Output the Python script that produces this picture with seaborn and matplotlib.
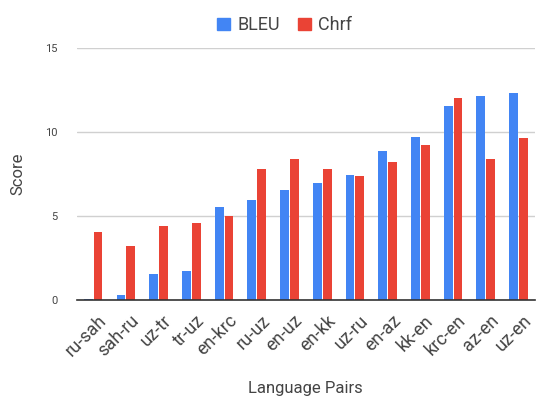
import matplotlib
matplotlib.use("Agg")
import matplotlib.pyplot as plt
import matplotlib.transforms as mtransforms
import seaborn as sns
import pandas as pd

# Data
pairs = ["ru-sah", "sah-ru", "uz-tr", "tr-uz", "en-krc", "ru-uz", "en-uz",
         "en-kk", "uz-ru", "en-az", "kk-en", "krc-en", "az-en", "uz-en"]
bleu = [0.05, 0.28, 1.54, 1.72, 5.55, 5.95, 6.57, 6.98, 7.43, 8.87, 9.73, 11.57, 12.17, 12.33]
chrf = [4.02, 3.2, 4.41, 4.59, 4.98, 7.8, 8.4, 7.78, 7.38, 8.2, 9.24, 12.05, 8.42, 9.63]

metrics = ["BLEU", "Chrf"]
colors = ["#4285F4", "#EA4335"]

# long form table for seaborn
df = pd.DataFrame({"pair": pairs * 2,
                   "metric": ["BLEU"] * len(pairs) + ["Chrf"] * len(pairs),
                   "score": bleu + chrf})

sns.set_theme(style="white")
plt.rcParams["font.family"] = ["Roboto", "DejaVu Sans"]
text_col = "#444444"

fig = plt.figure(figsize=(5.37, 4.01), dpi=100)
ax = fig.add_axes([0.143, 0.252, 0.853, 0.628])

sns.barplot(data=df, x="pair", y="score", hue="metric", hue_order=metrics,
            palette=colors, width=0.6, gap=0.1, saturation=1, ax=ax,
            edgecolor="none", legend=False)

ax.set_ylim(0, 15)
ax.set_xlim(-0.5, len(pairs) - 0.5)
ax.set_yticks([0, 5, 10, 15])
ax.yaxis.grid(True, color="#d0d0d0", linewidth=1)
ax.set_axisbelow(True)
for s in ["left", "right", "top"]:
    ax.spines[s].set_visible(False)
ax.spines["bottom"].set_color("#333333")
ax.spines["bottom"].set_linewidth(1.2)
ax.tick_params(axis="both", length=0)
ax.tick_params(axis="y", labelsize=8, colors=text_col, pad=14)
ax.tick_params(axis="x", labelsize=13, colors=text_col, pad=4)

# rotated labels, nudged right/down like the original
offset = mtransforms.ScaledTranslation(4 / 100, -6 / 100, fig.dpi_scale_trans)
for lbl in ax.get_xticklabels():
    lbl.set_rotation(45)
    lbl.set_ha("right")
    lbl.set_rotation_mode("anchor")
    lbl.set_transform(lbl.get_transform() + offset)

ax.set_xlabel("Language Pairs", fontsize=12, color=text_col, labelpad=15)
ax.set_ylabel("Score", fontsize=12, color=text_col, labelpad=14)

handles = [plt.Rectangle((0, 0), 1, 1, color=c) for c in colors]
fig.legend(handles, metrics, loc="upper center", bbox_to_anchor=(0.53, 1.0),
           ncol=2, frameon=False, fontsize=13, handlelength=0.7, handleheight=0.7,
           handletextpad=0.4, columnspacing=1.0, labelcolor=text_col)

fig.savefig("out.png", dpi=100)
